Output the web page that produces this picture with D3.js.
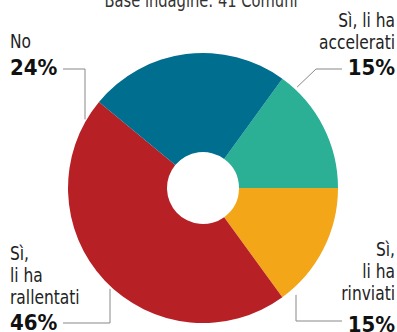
<!DOCTYPE html>
<html>
<head>
<meta charset="utf-8">
<script src="https://cdn.jsdelivr.net/npm/d3@7"></script>
<style>
  html, body { margin: 0; padding: 0; background: #fff; }
  svg { display: block; }
  .lab { font-family: "DejaVu Sans Condensed", "DejaVu Sans", sans-serif; font-stretch: condensed; font-size: 20px; fill: #222; }
  .pct { font-family: "DejaVu Sans Condensed", "DejaVu Sans", sans-serif; font-stretch: condensed; font-weight: bold; font-size: 22px; fill: #111; }
  .title { font-family: "DejaVu Sans Condensed", "DejaVu Sans", sans-serif; font-stretch: condensed; font-size: 19px; fill: #333; }
</style>
</head>
<body>
<svg width="397" height="332"></svg>
<script>
// slices in clockwise order, starting at 36deg from the top
var categories = ["accelerati", "rinviati", "rallentati", "No"];
var values = [15, 15, 46, 24];
var colors = ["#2bb096", "#f3a618", "#b72125", "#006e8f"];
var labelLines = [["Sì, li ha", "accelerati"], ["Sì,", "li ha", "rinviati"], ["Sì,", "li ha", "rallentati"], ["No"]];

var svg = d3.select("svg"),
    width = +svg.attr("width"),
    height = +svg.attr("height");

var cx = 203, cy = 188, radius = 135, hole = 36;
var narrow = 0.86; // squeeze text to look like a condensed face

svg.append("text")
    .attr("class", "title")
    .attr("text-anchor", "middle")
    .attr("transform", "translate(201,7) scale(" + narrow + ",1)")
    .text("Base indagine: 41 Comuni");

var data = categories.map(function(c, i) { return { name: c, value: values[i], color: colors[i], lines: labelLines[i] }; });

var start = 0.2 * Math.PI;
var pie = d3.pie()
    .sort(null)
    .value(function(d) { return d.value; })
    .startAngle(start)
    .endAngle(start + 2 * Math.PI);

var arc = d3.arc().innerRadius(hole).outerRadius(radius);

var g = svg.append("g").attr("transform", "translate(" + cx + "," + cy + ")");

g.selectAll("path")
    .data(pie(data))
    .enter().append("path")
    .attr("d", arc)
    .attr("fill", function(d) { return d.data.color; });

// point on the outer edge for a given x (upper or lower half)
function edgeY(x, lower) {
    var dx = x - cx;
    var dy = Math.sqrt(radius * radius - dx * dx) + 3;
    return lower ? cy + dy : cy - dy;
}

// label layout: side, text block position, leader elbow
var layout = {
    "accelerati": { anchor: "end", x: 395, y0: 27, pctY: 75, line: function() {
        var a = 43 * Math.PI / 180;
        var sx = cx + (radius + 3) * Math.sin(a), sy = cy - (radius + 3) * Math.cos(a);
        return [[sx, sy], [316, 69], [342, 69]];
    } },
    "rinviati": { anchor: "end", x: 395, y0: 256, pctY: 332, line: function() {
        return [[296, edgeY(296, true) + 6], [296, 321], [342, 321]];
    } },
    "rallentati": { anchor: "start", x: 10, y0: 260, pctY: 330, line: function() {
        return [[110, edgeY(110, true)], [110, 323], [63, 323]];
    } },
    "No": { anchor: "start", x: 10, y0: 48, pctY: 75, line: function() {
        return [[85, edgeY(85, false)], [85, 69], [63, 69]];
    } }
};

var lineGen = d3.line();

data.forEach(function(d) {
    var L = layout[d.name];
    var t = svg.append("text")
        .attr("class", "lab")
        .attr("text-anchor", L.anchor)
        .attr("transform", "translate(" + L.x + "," + L.y0 + ") scale(" + narrow + ",1)");
    d.lines.forEach(function(s, i) {
        t.append("tspan")
            .attr("x", 0)
            .attr("y", i * 22)
            .text(s);
    });
    svg.append("text")
        .attr("class", "pct")
        .attr("text-anchor", L.anchor)
        .attr("transform", "translate(" + L.x + "," + L.pctY + ")")
        .text(d.value + "%");
    svg.append("path")
        .attr("d", lineGen(L.line()))
        .attr("fill", "none")
        .attr("stroke", "#888")
        .attr("stroke-width", 1);
});
</script>
</body>
</html>
